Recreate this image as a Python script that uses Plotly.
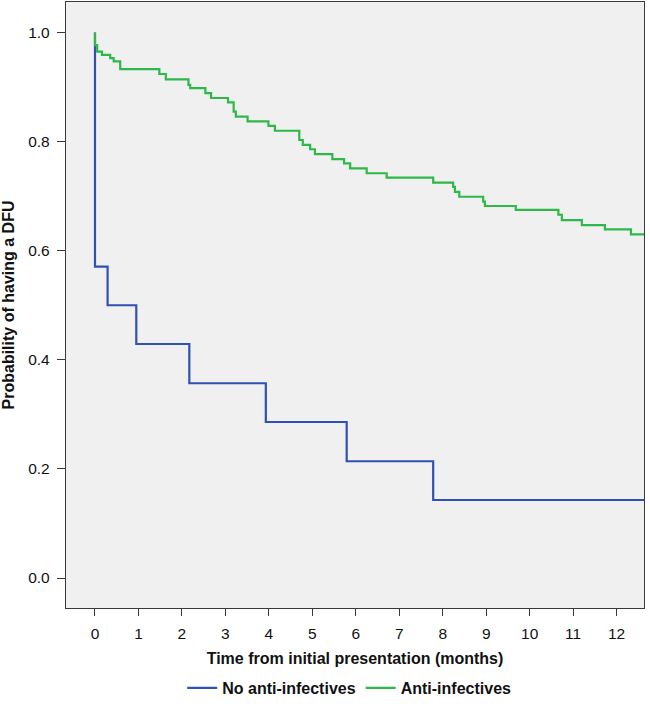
import plotly.graph_objects as go

# ---- data ----
blue_name = "No anti-infectives"
blue_times = [0, 0, 0.29, 0.95, 2.17, 3.93, 5.79, 7.78, 12.63]
blue_surv = [1.0, 0.571, 0.500, 0.429, 0.357, 0.286, 0.214, 0.143, 0.143]

green_name = "Anti-infectives"
green_times = [0, 0, 0.05, 0.16, 0.35, 0.43, 0.58, 1.48, 1.63, 2.15, 2.19, 2.54, 2.67,
               3.06, 3.19, 3.24, 3.51, 3.99, 4.14, 4.70, 4.78, 4.95, 5.06, 5.46, 5.73,
               5.87, 6.25, 6.71, 7.78, 8.24, 8.28, 8.38, 8.93, 8.97, 9.68, 10.66, 10.74,
               11.20, 11.73, 12.33, 12.63]
green_surv = [1.0, 0.977, 0.965, 0.959, 0.953, 0.947, 0.933, 0.924, 0.914, 0.904, 0.898,
              0.889, 0.880, 0.872, 0.855, 0.846, 0.837, 0.829, 0.820, 0.803, 0.794, 0.786,
              0.777, 0.768, 0.760, 0.751, 0.742, 0.734, 0.725, 0.717, 0.708, 0.699, 0.690,
              0.682, 0.675, 0.666, 0.656, 0.647, 0.639, 0.630, 0.630]

x_ticks = list(range(0, 13))
y_ticks = [0.0, 0.2, 0.4, 0.6, 0.8, 1.0]
y_tick_labels = ["0.0", "0.2", "0.4", "0.6", "0.8", "1.0"]

x_title = "Time from initial presentation (months)"
y_title = "Probability of having a DFU"

BLUE = "#3050B4"
GREEN = "#2EB84A"
AXIS = "#3a3a3a"
FONT = "Liberation Sans, Arial, sans-serif"

fig = go.Figure()
fig.add_trace(go.Scatter(x=blue_times, y=blue_surv, mode="lines", name=blue_name,
                         line=dict(color=BLUE, width=2.2, shape="hv")))
fig.add_trace(go.Scatter(x=green_times, y=green_surv, mode="lines", name=green_name,
                         line=dict(color=GREEN, width=2.2, shape="hv")))

fig.update_layout(
    width=650, height=704,
    margin=dict(l=66, r=6, t=2, b=96, autoexpand=False),
    paper_bgcolor="white",
    plot_bgcolor="#F0F0F0",
    font=dict(family=FONT, size=14, color="#111111"),
    showlegend=True,
    legend=dict(orientation="h", x=0.49, xanchor="center",
                y=-0.132, yanchor="middle",
                font=dict(family=FONT, size=16, color="#111111", weight="bold"),
                traceorder="normal", bgcolor="rgba(0,0,0,0)"),
)

fig.update_xaxes(
    range=[-0.667, 12.63], tickvals=x_ticks, ticktext=[str(v) for v in x_ticks],
    showgrid=False, zeroline=False, tickangle=0, automargin=False,
    showline=True, linecolor=AXIS, linewidth=1.3, mirror=True,
    ticks="outside", ticklen=7, tickwidth=1.3, tickcolor=AXIS,
    ticklabelstandoff=4,
    tickfont=dict(size=15.5),
    title=dict(text=x_title, font=dict(size=16, weight="bold"), standoff=12),
)
fig.update_yaxes(
    range=[-0.055, 1.056], tickvals=y_ticks, ticktext=y_tick_labels,
    showgrid=False, zeroline=False, automargin=False,
    showline=True, linecolor=AXIS, linewidth=1.3, mirror=True,
    ticks="outside", ticklen=8, tickwidth=1.3, tickcolor=AXIS,
    ticklabelstandoff=4,
    tickfont=dict(size=15.5),
    title=dict(text=y_title, font=dict(size=16, weight="bold"), standoff=9),
)

fig.write_html("out.html",
               config={"displayModeBar": False},
               post_script="document.body.style.margin='0';document.body.style.overflow='hidden';")
